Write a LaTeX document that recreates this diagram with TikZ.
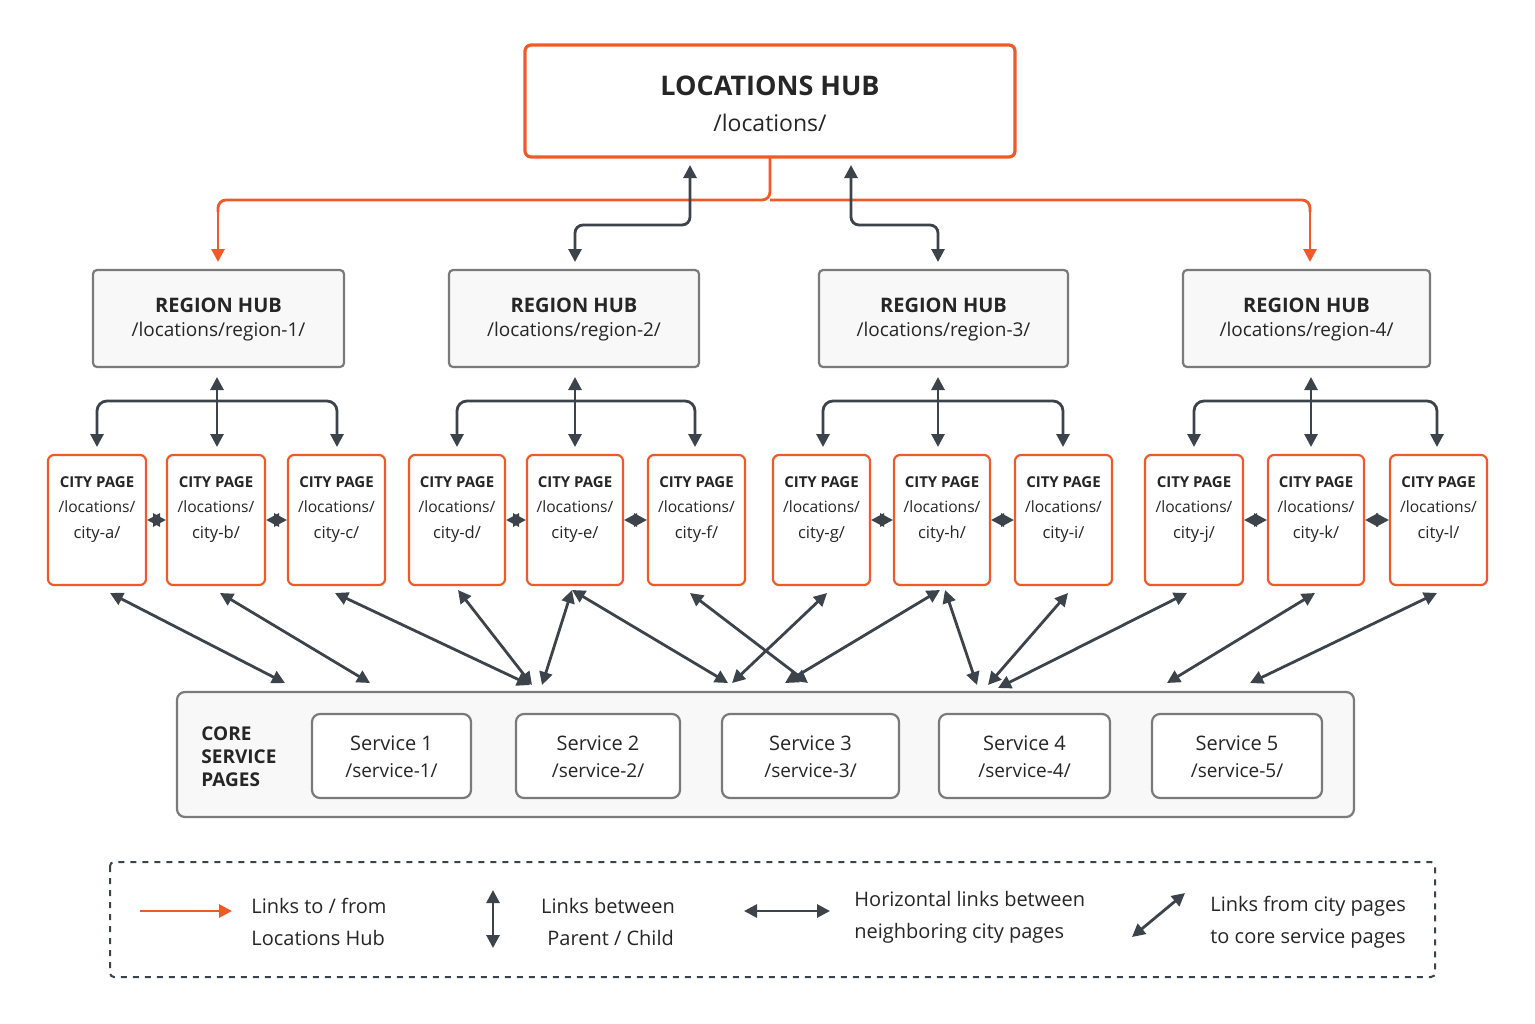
\documentclass[tikz,border=0pt]{standalone}
\usepackage{fontspec}
\setmainfont{Open Sans}
\usetikzlibrary{arrows.meta}
\definecolor{org}{HTML}{F05A28}
\definecolor{drk}{HTML}{3D434A}
\definecolor{gbd}{HTML}{7A7A7A}
\definecolor{gfl}{HTML}{F8F8F8}
\begin{document}
\begin{tikzpicture}[x=0.5pt,y=-0.5pt,
 hubbox/.style={draw=org,line width=1.6pt,rounded corners=3pt,fill=white},
 regbox/.style={draw=gbd,line width=1.1pt,rounded corners=2pt,fill=gfl},
 citybox/.style={draw=org,line width=1.1pt,rounded corners=3pt,fill=white},
 svcbox/.style={draw=gbd,line width=1.1pt,rounded corners=4pt,fill=white},
 olink/.style={draw=org,line width=1.4pt,-{Triangle[length=6.5pt,width=6.5pt]}},
 dlink/.style={draw=drk,line width=1.4pt,{Triangle[length=6.5pt,width=6.5pt]}-{Triangle[length=6.5pt,width=6.5pt]}},
 done/.style={draw=drk,line width=1.4pt,-{Triangle[length=6.5pt,width=6.5pt]}},
 txt/.style={text=black!85,align=center,inner sep=0pt}]
\useasboundingbox (0,0) rectangle (1535,1023);
\fill[white] (0,0) rectangle (1535,1023);
% hub
\draw[hubbox] (525,45) rectangle (1015,157);
\node[txt,font=\fontsize{13.5}{16}\selectfont\bfseries] (hubt) at (770,86) {LOCATIONS HUB};
\node[txt,font=\fontsize{11.5}{14}\selectfont] (hubp) at (770,123) {/locations/};
\coordinate (hb) at (770,158);
% orange
\draw[org,line width=1.4pt,rounded corners=4pt] (hb) -- (770,200) -- (218,200) -- (218,212);
\draw[olink] (218,205) -- (218,262);
\draw[org,line width=1.4pt,rounded corners=4pt] (770,200) -- (1310,200) -- (1310,212);
\draw[olink] (1310,205) -- (1310,262);
% dark to regions 2,3
\draw[dlink,rounded corners=4pt] (690,165) -- (690,225) -- (575,225) -- (575,262);
\draw[dlink,rounded corners=4pt] (851,165) -- (851,225) -- (938,225) -- (938,262);
% regions
\foreach \n/\xa/\xb/\r in {r1/93/344/1,r2/449/699/2,r3/819/1068/3,r4/1183/1430/4}{
 \draw[regbox] (\xa,270) rectangle (\xb,367);
 \node[txt,font=\fontsize{10}{12}\selectfont\bfseries] (\n t) at ({(\xa+\xb)/2},305) {REGION HUB};
 \node[txt,font=\fontsize{9.5}{12}\selectfont] (\n p) at ({(\xa+\xb)/2},332) {/locations/region-\r/};
}
% cities
\foreach \n/\xa/\xb in {a/48/146,b/167/265,c/288/385,d/409/505,e/527/623,f/648/745,g/773/870,h/894/990,i/1015/1112,j/1145/1243,k/1268/1364,l/1390/1487}{
 \draw[citybox] (\xa,455) rectangle (\xb,585);
 \node[txt,font=\fontsize{7.5}{10}\selectfont\bfseries] (c\n t) at ({(\xa+\xb)/2},482) {CITY PAGE};
 \node[txt,font=\fontsize{7.8}{10}\selectfont] (c\n p) at ({(\xa+\xb)/2},507) {/locations/};
 \node[txt,font=\fontsize{8.3}{10}\selectfont] (c\n c) at ({(\xa+\xb)/2},534) {city-\n/};
}
% region to city
\foreach \l/\m/\r in {97/217/337,457/575/695,823/938/1063,1194/1311/1437}{
 \draw[dlink] (\m,377) -- (\m,447);
 \draw[drk,line width=1.4pt,rounded corners=5pt] (\l,440) -- (\l,401) -- (\r,401) -- (\r,440);
 \draw[done] (\l,420) -- (\l,447);
 \draw[done] (\r,420) -- (\r,447);
}
% horizontal city links
\foreach \xa/\xb in {146/167,265/288,505/527,623/648,870/894,990/1015,1243/1268,1364/1390}{
 \draw[dlink] (\xa+1,520) -- (\xb-1,520);
}
% core services
\draw[regbox,rounded corners=4pt] (177,692) rectangle (1354,817);
\node[txt,align=left,anchor=west,font=\fontsize{9.5}{11.5}\selectfont\bfseries] (core) at (201,757) {CORE\\SERVICE\\PAGES};
\foreach \n/\xa/\xb in {1/312/471,2/516/680,3/722/899,4/939/1110,5/1152/1322}{
 \draw[svcbox] (\xa,714) rectangle (\xb,798);
 \node[txt,font=\fontsize{10}{12}\selectfont] (s\n t) at ({(\xa+\xb)/2},743) {Service \n};
 \node[txt,font=\fontsize{9.5}{12}\selectfont] (s\n p) at ({(\xa+\xb)/2},771) {/service-\n/};
}
% diagonals
\foreach \xa/\ya/\xb/\yb in {110/593/285/683, 220/593/370/683, 335/593/530/685, 458/590/532/685, 572/590/542/685, 572/590/728/683, 690/593/808/683, 827/593/732/683, 940/590/785/683, 945/590/977/685, 1068/593/988/685, 1187/593/998/688, 1315/593/1167/683, 1437/593/1250/683}{
 \draw[dlink] (\xa,\ya) -- (\xb,\yb);
}
% legend
\draw[drk,line width=1pt,dashed,rounded corners=2pt] (110,862) rectangle (1435,977);
\draw[olink] (140,911) -- (232,911);
\node[txt,align=left,anchor=west,font=\fontsize{10}{16}\selectfont] (l1) at (251,922) {Links to / from\\Locations Hub};
\draw[dlink] (493,890) -- (493,948);
\node[txt,font=\fontsize{10}{16}\selectfont] (l2) at (608,922) {Links between\\\ Parent /\ Child};
\draw[dlink] (744,911) -- (830,911);
\node[txt,align=left,anchor=west,font=\fontsize{10}{16}\selectfont] (l3) at (854,917) {Horizontal links between\\neighboring city pages};
\draw[dlink] (1132,937) -- (1185,893);
\node[txt,align=left,anchor=west,font=\fontsize{10}{16}\selectfont] (l4) at (1210,922) {Links from city pages\\to core service pages};
\end{tikzpicture}
\end{document}
